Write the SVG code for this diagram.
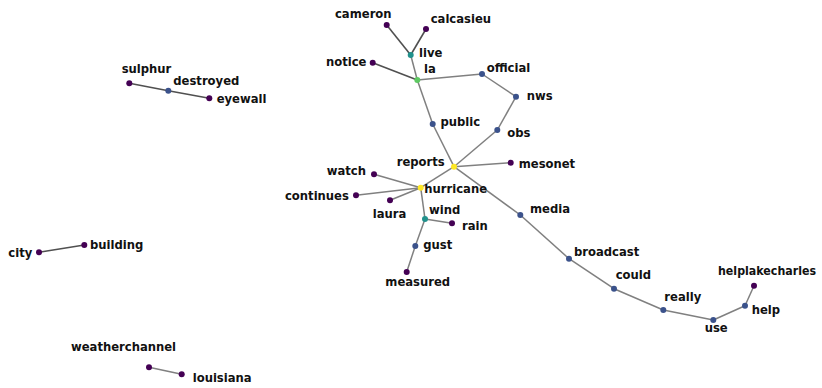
<svg xmlns="http://www.w3.org/2000/svg" width="822" height="388" viewBox="0 0 822 388">
<style>
.e{stroke:#808080;stroke-width:1.5;fill:none}
.d{stroke:#505050;stroke-width:1.6}
.n1{fill:#440154}
.n2{fill:#3b528b}
.n3{fill:#21918c}
.n4{fill:#5ec962}
.n5{fill:#fde725}
text{font-family:"DejaVu Sans",sans-serif;font-weight:bold;font-size:11.6px;fill:#111111}
</style>
<rect width="822" height="388" fill="#ffffff"/>
<g id="edges">
<line class="e d" x1="386.7" y1="25" x2="410.7" y2="55"/>
<line class="e d" x1="426" y1="29" x2="410.7" y2="55"/>
<line class="e" x1="410.7" y1="55" x2="417.3" y2="80"/>
<line class="e d" x1="372.7" y1="62.7" x2="417.3" y2="80"/>
<line class="e" x1="417.3" y1="80" x2="482" y2="74"/>
<line class="e" x1="482" y1="74" x2="516" y2="96.7"/>
<line class="e" x1="516" y1="96.7" x2="497.3" y2="130"/>
<line class="e" x1="497.3" y1="130" x2="454" y2="166.7"/>
<line class="e" x1="417.3" y1="80" x2="432.7" y2="124"/>
<line class="e" x1="432.7" y1="124" x2="454" y2="166.7"/>
<line class="e" x1="454" y1="166.7" x2="510.7" y2="162.7"/>
<line class="e" x1="454" y1="166.7" x2="420.7" y2="187.7"/>
<line class="e" x1="454" y1="166.7" x2="520.3" y2="215"/>
<line class="e" x1="420.7" y1="187.7" x2="374" y2="174.3"/>
<line class="e" x1="420.7" y1="187.7" x2="356" y2="195.3"/>
<line class="e" x1="420.7" y1="187.7" x2="390" y2="200.3"/>
<line class="e" x1="420.7" y1="187.7" x2="425" y2="219"/>
<line class="e" x1="425" y1="219" x2="452" y2="223.3"/>
<line class="e" x1="425" y1="219" x2="415.3" y2="246"/>
<line class="e" x1="415.3" y1="246" x2="406.7" y2="272"/>
<line class="e" x1="520.3" y1="215" x2="569" y2="258.7"/>
<line class="e" x1="569" y1="258.7" x2="614" y2="288.7"/>
<line class="e" x1="614" y1="288.7" x2="663.3" y2="310"/>
<line class="e" x1="663.3" y1="310" x2="713.3" y2="320"/>
<line class="e" x1="713.3" y1="320" x2="745" y2="305.7"/>
<line class="e" x1="745" y1="305.7" x2="754" y2="285.7"/>
<line class="e d" x1="129.3" y1="83.3" x2="168.3" y2="90.7"/>
<line class="e d" x1="168.3" y1="90.7" x2="209.3" y2="98.3"/>
<line class="e d" x1="39" y1="252.3" x2="84.3" y2="245"/>
<line class="e" x1="149" y1="367.3" x2="181.7" y2="374.3"/>
</g>
<g id="cameron"><circle class="n1" cx="386.7" cy="25" r="3"/><text x="335" y="18">cameron</text></g>
<g id="calcasieu"><circle class="n1" cx="426" cy="29" r="3"/><text x="430.7" y="22.7">calcasieu</text></g>
<g id="live"><circle class="n3" cx="410.7" cy="55" r="3"/><text x="419" y="57">live</text></g>
<g id="notice"><circle class="n1" cx="372.7" cy="62.7" r="3"/><text x="326" y="66">notice</text></g>
<g id="la"><circle class="n4" cx="417.3" cy="80" r="3"/><text x="424" y="73">la</text></g>
<g id="official"><circle class="n2" cx="482" cy="74" r="3"/><text x="486.7" y="72">official</text></g>
<g id="nws"><circle class="n2" cx="516" cy="96.7" r="3"/><text x="526.7" y="100">nws</text></g>
<g id="public"><circle class="n2" cx="432.7" cy="124" r="3"/><text x="440.5" y="125.5">public</text></g>
<g id="obs"><circle class="n2" cx="497.3" cy="130" r="3"/><text x="507.3" y="137.3">obs</text></g>
<g id="reports"><circle class="n5" cx="454" cy="166.7" r="3"/><text x="396.7" y="166">reports</text></g>
<g id="mesonet"><circle class="n1" cx="510.7" cy="162.7" r="3"/><text x="518.7" y="168">mesonet</text></g>
<g id="watch"><circle class="n1" cx="374" cy="174.3" r="3"/><text x="326.7" y="175.3">watch</text></g>
<g id="hurricane"><circle class="n5" cx="420.7" cy="187.7" r="3"/><text x="424.3" y="193.3">hurricane</text></g>
<g id="continues"><circle class="n1" cx="356" cy="195.3" r="3"/><text x="285" y="200">continues</text></g>
<g id="laura"><circle class="n1" cx="390" cy="200.3" r="3"/><text x="372.7" y="218.3">laura</text></g>
<g id="wind"><circle class="n3" cx="425" cy="219" r="3"/><text x="429" y="214.3">wind</text></g>
<g id="rain"><circle class="n1" cx="452" cy="223.3" r="3"/><text x="462" y="230">rain</text></g>
<g id="gust"><circle class="n2" cx="415.3" cy="246" r="3"/><text x="423.3" y="249.3">gust</text></g>
<g id="measured"><circle class="n1" cx="406.7" cy="272" r="3"/><text x="385.3" y="285.7">measured</text></g>
<g id="media"><circle class="n2" cx="520.3" cy="215" r="3"/><text x="530" y="212.7">media</text></g>
<g id="broadcast"><circle class="n2" cx="569" cy="258.7" r="3"/><text x="574" y="255.7">broadcast</text></g>
<g id="could"><circle class="n2" cx="614" cy="288.7" r="3"/><text x="615.7" y="279">could</text></g>
<g id="really"><circle class="n2" cx="663.3" cy="310" r="3"/><text x="664.3" y="301">really</text></g>
<g id="use"><circle class="n2" cx="713.3" cy="320" r="3"/><text x="704.7" y="331.7">use</text></g>
<g id="help"><circle class="n2" cx="745" cy="305.7" r="3"/><text x="751.7" y="314.3">help</text></g>
<g id="helplakecharles"><circle class="n1" cx="754" cy="285.7" r="3"/><text x="718" y="275" textLength="98" lengthAdjust="spacingAndGlyphs">helplakecharles</text></g>
<g id="sulphur"><circle class="n1" cx="129.3" cy="83.3" r="3"/><text x="121.7" y="72.7">sulphur</text></g>
<g id="destroyed"><circle class="n2" cx="168.3" cy="90.7" r="3"/><text x="173.3" y="85">destroyed</text></g>
<g id="eyewall"><circle class="n1" cx="209.3" cy="98.3" r="3"/><text x="216.7" y="102.7">eyewall</text></g>
<g id="city"><circle class="n1" cx="39" cy="252.3" r="3"/><text x="8.3" y="256.7">city</text></g>
<g id="building"><circle class="n1" cx="84.3" cy="245" r="3"/><text x="90" y="249.3">building</text></g>
<g id="weatherchannel"><circle class="n1" cx="149" cy="367.3" r="3"/><text x="71" y="350.7">weatherchannel</text></g>
<g id="louisiana"><circle class="n1" cx="181.7" cy="374.3" r="3"/><text x="192.7" y="382">louisiana</text></g>
</svg>
